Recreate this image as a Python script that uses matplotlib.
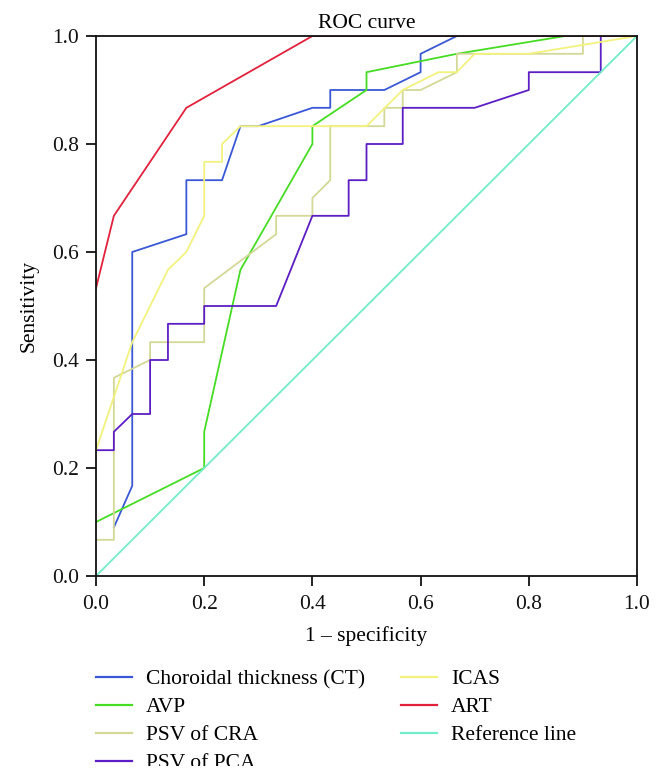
import matplotlib
matplotlib.use("Agg")
import matplotlib.pyplot as plt
from matplotlib.lines import Line2D
from matplotlib.patches import Rectangle

plt.rcParams['font.family'] = ['Liberation Serif', 'DejaVu Serif']

# ---- data ----
ct_x = [0.033, 0.067, 0.067, 0.167, 0.167, 0.233, 0.267, 0.3, 0.4, 0.433, 0.433, 0.533, 0.6, 0.6, 0.667, 1.0]
ct_y = [0.09, 0.167, 0.6, 0.633, 0.733, 0.733, 0.833, 0.833, 0.867, 0.867, 0.9, 0.9, 0.933, 0.967, 1.0, 1.0]

avp_x = [0, 0.2, 0.2, 0.267, 0.4, 0.4, 0.5, 0.5, 0.667, 0.867, 1.0]
avp_y = [0.1, 0.2, 0.267, 0.567, 0.8, 0.833, 0.9, 0.933, 0.967, 1.0, 1.0]

cra_x = [0, 0.033, 0.033, 0.1, 0.1, 0.2, 0.2, 0.333, 0.333, 0.4, 0.4, 0.433, 0.433,
         0.533, 0.533, 0.567, 0.567, 0.6, 0.667, 0.667, 0.9, 0.9, 1.0]
cra_y = [0.067, 0.067, 0.367, 0.4, 0.433, 0.433, 0.533, 0.633, 0.667, 0.667, 0.7, 0.733, 0.833,
         0.833, 0.867, 0.867, 0.9, 0.9, 0.933, 0.967, 0.967, 1.0, 1.0]

pca_x = [0, 0.033, 0.033, 0.067, 0.1, 0.1, 0.133, 0.133, 0.2, 0.2, 0.333, 0.4, 0.467, 0.467,
         0.5, 0.5, 0.567, 0.567, 0.7, 0.8, 0.8, 0.933, 0.933, 1.0]
pca_y = [0.233, 0.233, 0.267, 0.3, 0.3, 0.4, 0.4, 0.467, 0.467, 0.5, 0.5, 0.667, 0.667, 0.733,
         0.733, 0.8, 0.8, 0.867, 0.867, 0.9, 0.933, 0.933, 1.0, 1.0]

icas_x = [0, 0.067, 0.133, 0.167, 0.2, 0.2, 0.233, 0.233, 0.267, 0.5, 0.567, 0.633, 0.667, 0.7, 0.8, 1.0]
icas_y = [0.233, 0.433, 0.567, 0.6, 0.667, 0.767, 0.767, 0.8, 0.833, 0.833, 0.9, 0.933, 0.933, 0.967, 0.967, 1.0]

art_x = [0, 0.033, 0.167, 0.4, 1.0]
art_y = [0.533, 0.667, 0.867, 1.0, 1.0]

ref_x = [0, 1]
ref_y = [0, 1]

labels = ["Choroidal thickness (CT)", "AVP", "PSV of CRA", "PSV of PCA", "ICAS", "ART", "Reference line"]
colors = ["#3a58d6", "#45dc23", "#d3d896", "#5c1ec4", "#f2f27c", "#e2213d", "#72ecc9"]
ticks = [0.0, 0.2, 0.4, 0.6, 0.8, 1.0]
tick_labels = ["0.0", "0.2", "0.4", "0.6", "0.8", "1.0"]

FS = 15.5
W, H = 664, 781
fig = plt.figure(figsize=(W / 100, H / 100), dpi=100)
ax = fig.add_axes([96 / W, 1 - 576 / H, (637 - 96) / W, (576 - 36) / H])

series = [(ct_x, ct_y), (avp_x, avp_y), (cra_x, cra_y), (pca_x, pca_y),
          (icas_x, icas_y), (art_x, art_y), (ref_x, ref_y)]
for (xs, ys), lab, col in zip(series, labels, colors):
    ax.plot(xs, ys, color=col, lw=1.3, label=lab)

ax.set_xlim(0, 1)
ax.set_ylim(0, 1)
ax.set_xticks(ticks)
ax.set_xticklabels(tick_labels)
ax.set_yticks(ticks)
ax.set_yticklabels(tick_labels)
ax.tick_params(direction='out', length=7, width=1.3, labelsize=FS, colors='#111111')
ax.tick_params(axis='x', pad=6.5)
ax.tick_params(axis='y', pad=5)
for s in ax.spines.values():
    s.set_linewidth(1.3)
    s.set_color('#111111')

ax.set_title("ROC curve", fontsize=FS, pad=6)
ax.set_xlabel("1 \u2013 specificity", fontsize=FS, labelpad=9)
ax.set_ylabel("Sensitivity", fontsize=FS, labelpad=10)

handles = [Line2D([0], [0], color=c, lw=1.6) for c in colors]
fig.legend(handles, labels, loc='upper left', bbox_to_anchor=(96 / W, 1 - 669 / H),
           ncol=2, frameon=False, fontsize=FS, handlelength=1.67, handletextpad=0.65,
           columnspacing=1.68, labelspacing=0.37, borderaxespad=0, borderpad=0)

# the reference image is cut off just below the last legend row
fig.patches.append(Rectangle((0, 0), 1, 15 / H, transform=fig.transFigure,
                             facecolor='white', edgecolor='none', zorder=10))

fig.savefig("out.png", dpi=100)
